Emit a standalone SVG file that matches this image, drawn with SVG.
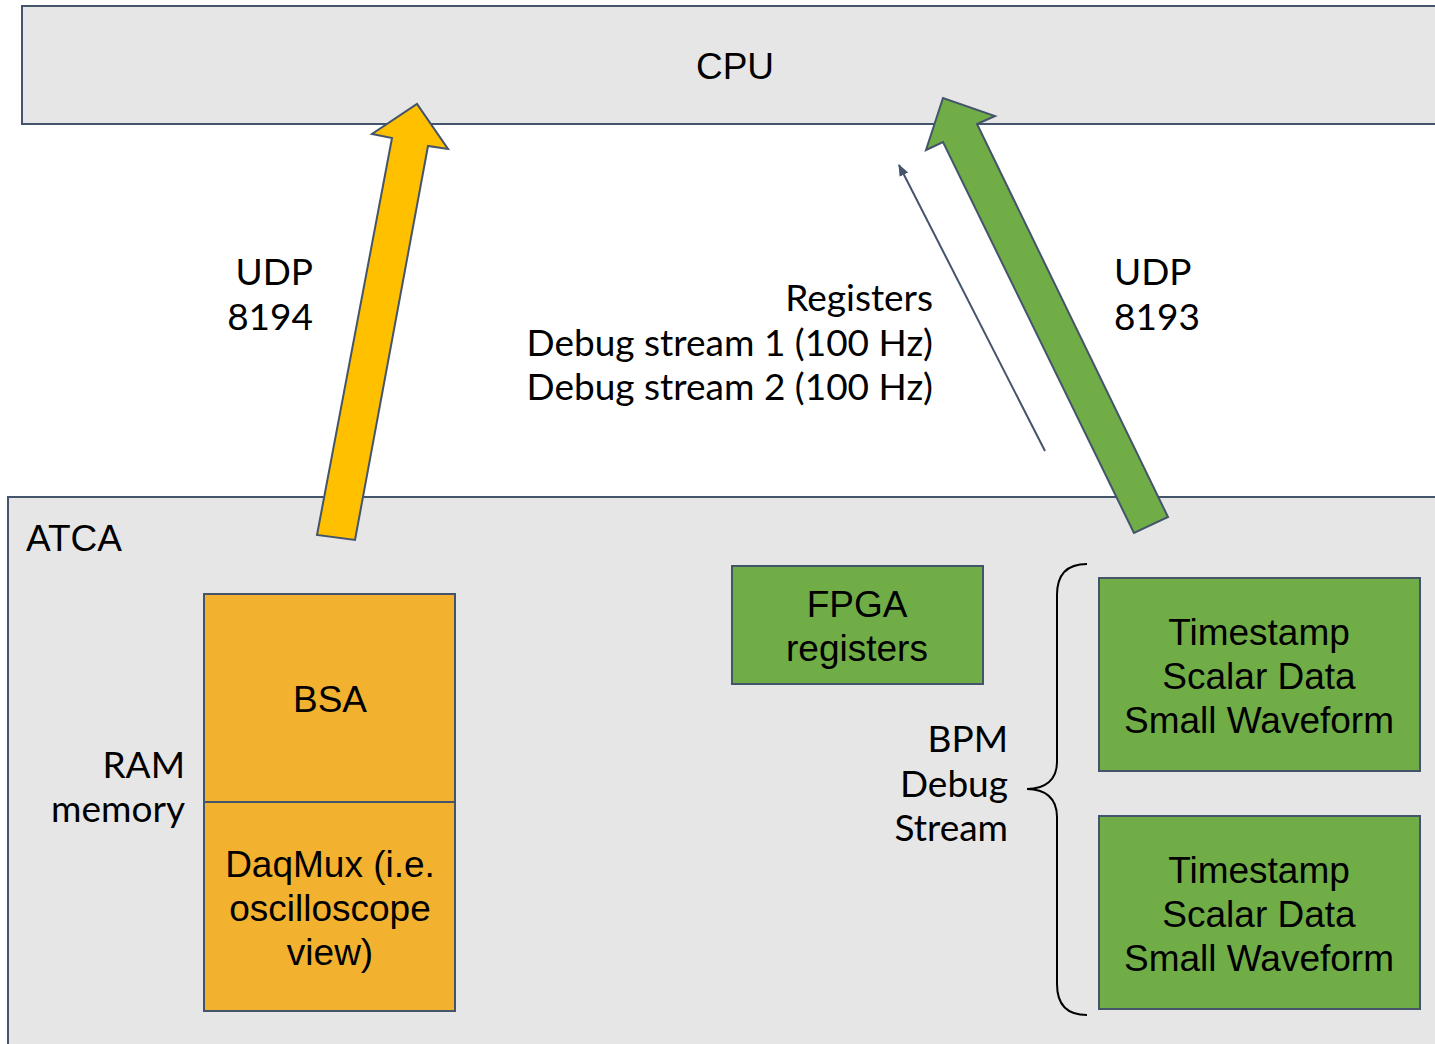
<svg xmlns="http://www.w3.org/2000/svg" width="1435" height="1044" viewBox="0 0 1435 1044">
<defs>
<style>
.box{stroke:#44546a;stroke-width:2}
.gray{fill:#e6e6e6}
.orange{fill:#f3b130}
.green{fill:#70ad47}
.arial{font-family:"Liberation Sans",Arial,sans-serif;font-size:37px;fill:#000}
.lato{font-family:Lato,"Noto Sans",sans-serif;font-size:37px;fill:#000}
.mid{text-anchor:middle}
.end{text-anchor:end}
</style>
<marker id="ah" viewBox="0 0 10 10" refX="9" refY="5" markerWidth="6" markerHeight="6" orient="auto" markerUnits="strokeWidth">
<path d="M0,1 L10,5 L0,9 Z" fill="#44546a"/>
</marker>
</defs>
<rect width="1435" height="1044" fill="#ffffff"/>
<g id="cpu">
<rect class="box gray" x="22" y="6" width="1430" height="118"/>
<text class="arial mid" x="735" y="79">CPU</text>
</g>
<g id="atca">
<rect class="box gray" x="8" y="497" width="1440" height="560"/>
<text class="arial" x="26" y="551">ATCA</text>
</g>
<g id="bsa">
<rect class="box orange" x="204" y="594" width="251" height="208"/>
<text class="arial mid" x="330" y="712">BSA</text>
</g>
<g id="daqmux">
<rect class="box orange" x="204" y="802" width="251" height="209"/>
<text class="arial mid" x="330" y="877">DaqMux (i.e.</text>
<text class="arial mid" x="330" y="921">oscilloscope</text>
<text class="arial mid" x="330" y="965">view)</text>
</g>
<g id="ram-label">
<text class="lato end" x="185" y="778">RAM</text>
<text class="lato end" x="185" y="822">memory</text>
</g>
<g id="fpga">
<rect class="box green" x="732" y="566" width="251" height="118"/>
<text class="arial mid" x="857" y="617">FPGA</text>
<text class="arial mid" x="857" y="661">registers</text>
</g>
<g id="stream1">
<rect class="box green" x="1099" y="578" width="321" height="193"/>
<text class="arial mid" x="1259" y="645">Timestamp</text>
<text class="arial mid" x="1259" y="689">Scalar Data</text>
<text class="arial mid" x="1259" y="733">Small Waveform</text>
</g>
<g id="stream2">
<rect class="box green" x="1099" y="816" width="321" height="193"/>
<text class="arial mid" x="1259" y="883">Timestamp</text>
<text class="arial mid" x="1259" y="927">Scalar Data</text>
<text class="arial mid" x="1259" y="971">Small Waveform</text>
</g>
<g id="bpm-label">
<text class="lato end" x="1008" y="752">BPM</text>
<text class="lato end" x="1008" y="797">Debug</text>
<text class="lato end" x="1008" y="841">Stream</text>
<path d="M1087,564 C1066,564 1057,575 1057,595 L1057,762 C1057,780 1045,789 1027,789 C1045,789 1057,798 1057,817 L1057,984 C1057,1004 1066,1015 1087,1015" fill="none" stroke="#000" stroke-width="2"/>
</g>
<g id="connectors">
<path class="box" fill="#ffc000" d="M317,535 L392,138 L372,134 L417,104 L448,149 L428,146 L355,540 Z" stroke-linejoin="miter"/>
<path class="box" fill="#70ad47" d="M1134,533 L943,142 L926,150 L943,98 L995,116 L977,124 L1168,517 Z"/>
<line x1="1045" y1="451" x2="899" y2="165" stroke="#44546a" stroke-width="2" marker-end="url(#ah)"/>
<text class="lato end" x="313" y="285">UDP</text>
<text class="lato end" x="313" y="330">8194</text>
<text class="lato" x="1114" y="285">UDP</text>
<text class="lato" x="1114" y="330">8193</text>
<text class="lato end" x="933" y="311">Registers</text>
<text class="lato end" x="933" y="356">Debug stream 1 (100 Hz)</text>
<text class="lato end" x="933" y="400">Debug stream 2 (100 Hz)</text>
</g>
</svg>
